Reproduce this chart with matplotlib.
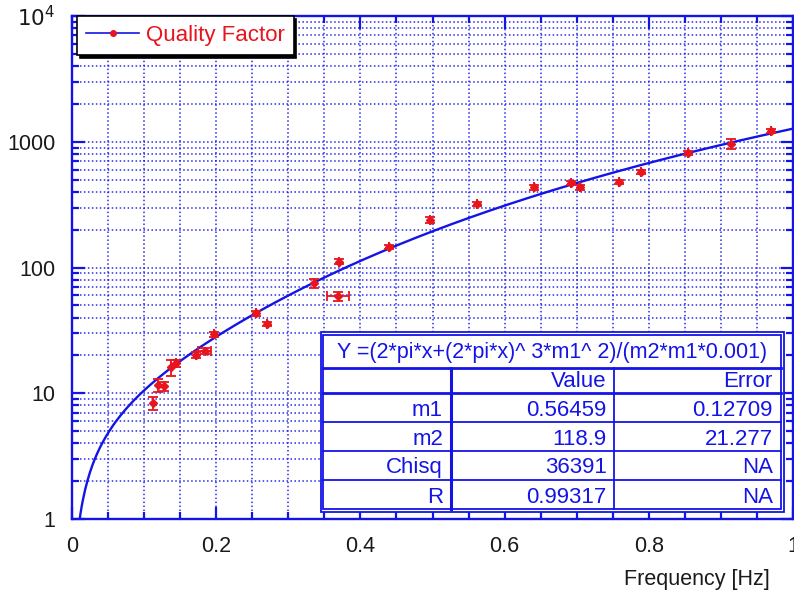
#!/usr/bin/env python3
# Quality factor vs. frequency with the fitted loss model on a log scale.

import numpy as np
from matplotlib import pyplot as plt, ticker
from matplotlib.lines import Line2D
from matplotlib.patches import Rectangle

plt.rcParams['font.family'] = ['Liberation Sans', 'DejaVu Sans']

BLUE = '#1414e6'
RED = '#e8141e'

# measured quality factor
freq = [0.113, 0.119, 0.127, 0.138, 0.144, 0.172, 0.184, 0.197, 0.255, 0.270,
        0.336, 0.369, 0.371, 0.439, 0.497, 0.562, 0.641, 0.692, 0.705, 0.759,
        0.789, 0.854, 0.914, 0.969]
qual = [8.4, 11.6, 11.4, 16.1, 17.3, 20.1, 21.8, 29.4, 43.3, 35.5,
        74.9, 59.3, 111, 146, 239, 320, 434, 467, 434, 479,
        578, 809, 960, 1224]
qual_err = [1.0, 1.4, 1.0, 2.3, 1.2, 1.2, 1.2, 1.5, 2.0, 1.5,
            6.0, 5.0, 5.0, 6.0, 14, 14, 18, 18, 18, 20,
            20, 30, 90, 40]
freq_err = [0, 0, 0, 0, 0, 0, 0.009, 0, 0, 0,
            0, 0.015, 0, 0, 0, 0, 0, 0, 0, 0,
            0, 0, 0, 0]

# fit results
fit_eq = 'Y =(2*pi*x+(2*pi*x)^ 3*m1^ 2)/(m2*m1*0.001)'
m1, m1_err = 0.56459, 0.12709
m2, m2_err = 118.9, 21.277
chisq = 36391
r_val = 0.99317
table_rows = [['', 'Value', 'Error'],
              ['m1', '0.56459', '0.12709'],
              ['m2', '118.9', '21.277'],
              ['Chisq', '36391', 'NA'],
              ['R', '0.99317', 'NA']]

x_ticks = [0, 0.2, 0.4, 0.6, 0.8, 1]
x_ticklabels = ['0', '0.2', '0.4', '0.6', '0.8', '1']
y_ticks = [1, 10, 100, 1000, 10000]
y_ticklabels = ['1', '10', '100', '1000', r'$10^4$']


def fit_model(x, m1, m2):
    w = 2 * np.pi * x
    return (w + w**3 * m1**2) / (m2 * m1 * 0.001)


fig = plt.figure(figsize=(7.94, 5.96), dpi=100)
ax = fig.add_axes([72/794, 77/596, 721/794, 503/596])

# fitted curve
xf = np.linspace(0.0, 1.0, 600)
ax.plot(xf, fit_model(xf, m1, m2), color=BLUE, lw=1.7, zorder=3)

# data with error bars
ax.errorbar(freq, qual, yerr=qual_err, xerr=freq_err, fmt='D', ms=4.5,
            color=RED, mfc=RED, mec=RED, ecolor=RED, elinewidth=1.3,
            capsize=3.5, capthick=1.3, zorder=4)

ax.set_yscale('log')
ax.set_xlim(0, 1)
ax.set_ylim(1, 1e4)

# axis format
ax.xaxis.set_major_locator(ticker.FixedLocator(x_ticks))
ax.xaxis.set_major_formatter(ticker.FixedFormatter(x_ticklabels))
ax.xaxis.set_minor_locator(ticker.MultipleLocator(0.05))
ax.yaxis.set_major_locator(ticker.FixedLocator(y_ticks))
ax.yaxis.set_major_formatter(ticker.FixedFormatter(y_ticklabels))
ax.yaxis.set_minor_locator(ticker.LogLocator(base=10, subs=np.arange(2, 10)))
ax.yaxis.set_minor_formatter(ticker.NullFormatter())
ax.tick_params(which='both', direction='in', top=True, right=True,
               color=BLUE, width=1.6, labelsize=15.5, labelcolor='#1a1a1a')
ax.tick_params(which='major', length=9, pad=12)
ax.tick_params(which='minor', length=5)
ax.grid(which='both', color=BLUE, ls=(0, (1, 1.6)), lw=1.1, alpha=0.9)
for sp in ax.spines.values():
    sp.set_color(BLUE)
    sp.set_linewidth(1.7)

fig.text(770/794, 1 - 580/596, 'Frequency [Hz]', ha='right', va='center',
         fontsize=15.5, color='#1a1a1a')

# legend with solid black shadow
proxy = Line2D([], [], color=BLUE, lw=1.2, marker='o', ms=4, mfc=RED, mec=RED)
leg = ax.legend([proxy], ['Quality Factor'], loc='upper left',
                bbox_to_anchor=(0.007, 1.0), borderaxespad=0, fancybox=False,
                fontsize=16, handlelength=2.4, handletextpad=0.3,
                borderpad=0.4, shadow={'color': 'k', 'alpha': 1},
                framealpha=1)
leg.get_frame().set_edgecolor('k')
leg.get_frame().set_linewidth(1.2)
for txt in leg.get_texts():
    txt.set_color(RED)
leg.set_zorder(6)

# fit parameter table
tr = ax.transAxes
ax.add_patch(Rectangle((0.345, 0.0139), 0.9875 - 0.345, 0.3724 - 0.0139,
                       transform=tr, facecolor='white', edgecolor=BLUE,
                       lw=1.3, zorder=5, clip_on=False))
ax.add_patch(Rectangle((0.3485, 0.0199), 0.983 - 0.3485, 0.3658 - 0.0199,
                       transform=tr, facecolor='none', edgecolor=BLUE,
                       lw=1.3, zorder=5, clip_on=False))
for yl in [0.2996, 0.2499, 0.1922, 0.1352, 0.0775]:
    lw = 2.0 if yl in (0.2996, 0.2499) else 1.3
    ax.plot([0.3485, 0.983], [yl, yl], transform=tr, color=BLUE, lw=lw,
            zorder=6, clip_on=False)
for xl in [0.5253, 0.7521]:
    lw = 2.2 if xl == 0.5253 else 1.3
    ax.plot([xl, xl], [0.0199, 0.2996], transform=tr, color=BLUE, lw=lw,
            zorder=6, clip_on=False)

ax.text(0.666, 0.3366, fit_eq, transform=tr, ha='center',
        va='center_baseline', fontsize=15.5, color=BLUE, zorder=7)
row_y = [0.2787, 0.2211, 0.1636, 0.1064, 0.0487]
col_x = [0.5146, 0.7416, 0.9718]
for row, yc in zip(table_rows, row_y):
    for cell, xc in zip(row, col_x):
        ax.text(xc, yc, cell, transform=tr, ha='right', va='center_baseline',
                fontsize=16, color=BLUE, zorder=7)

fig.savefig('out.png', dpi=100)
